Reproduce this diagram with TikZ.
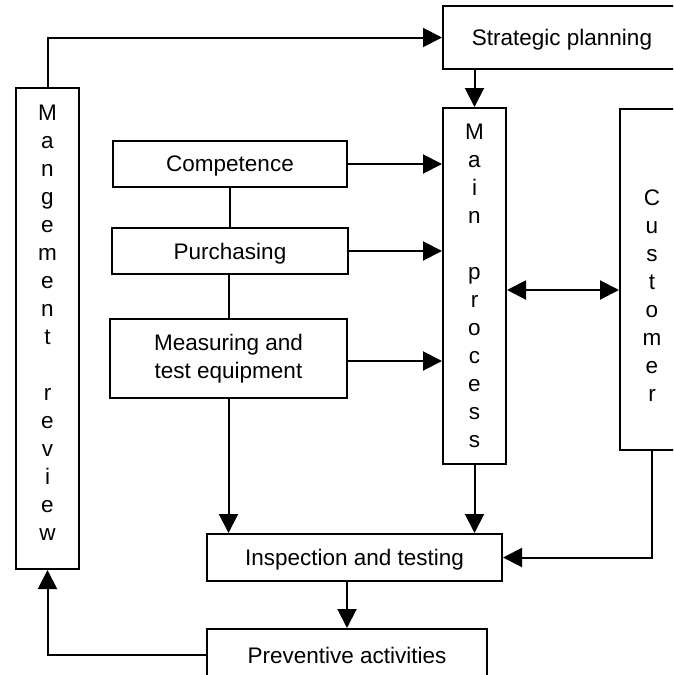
\documentclass[tikz,border=0pt]{standalone}
\usepackage{fontspec}
\setmainfont{Liberation Sans}
\usetikzlibrary{arrows.meta}
\begin{document}
\begin{tikzpicture}[x=1pt,y=-1pt,
  box/.style={draw, line width=2pt, rectangle, inner sep=0pt, align=center,
    font=\fontsize{22.5}{28}\selectfont},
  oneline/.style={text depth=0pt},
  letters/.style={font=\fontsize{22.5}{28}\selectfont, align=center, inner sep=0pt},
  link/.style={line width=2pt},
  flow/.style={line width=2pt, -{Triangle[length=19pt,width=19pt]}},
  both/.style={line width=2pt, {Triangle[length=19pt,width=19pt]}-{Triangle[length=19pt,width=19pt]}}]
\clip (0,0) rectangle (673,675);

% boxes
\node[box, oneline, minimum width=238pt, minimum height=63pt] (strat) at (562,37.5) {Strategic planning};
\node[box, minimum width=63pt, minimum height=481pt] (mgmt) at (47.5,328.5) {};
\node[letters] (mgmttext) at (47.5,323)
  {M\\a\\n\\g\\e\\m\\e\\n\\t\\[28pt]r\\e\\v\\i\\e\\w};
\node[box, minimum width=63pt, minimum height=356pt] (main) at (474.5,286)
  {M\\a\\i\\n\\[28pt]p\\r\\o\\c\\e\\s\\s};
\node[box, minimum width=64pt, minimum height=341pt] (cust) at (652,279.5) {};
\node[letters] (custtext) at (652,296)
  {C\\u\\s\\t\\o\\m\\e\\r};
\node[box, oneline, minimum width=234pt, minimum height=46pt] (comp) at (230,164) {Competence};
\node[box, oneline, minimum width=236pt, minimum height=46pt] (purch) at (230,251) {Purchasing};
\node[box, minimum width=237pt, minimum height=79pt] (meas) at (228.5,358.5)
  {Measuring and\\test equipment};
\node[box, oneline, minimum width=295pt, minimum height=47pt] (insp) at (354.5,557.5) {Inspection and testing};
\node[box, minimum width=280pt, minimum height=52pt] (prev) at (347,655) {Preventive activities};

% connectors
\draw[flow] (mgmt.north) |- (strat.west);
\draw[flow] (main.north |- strat.south) -- (main.north);
\draw[flow] (comp.east) -- (comp.east -| main.west);
\draw[flow] (purch.east) -- (purch.east -| main.west);
\draw[flow] ([yshift=-2.5pt]meas.east) -- ([yshift=-2.5pt]meas.east -| main.west);
\draw[link] (comp.south) -- (comp.south |- purch.north);
\draw[link] (purch.south -| meas.north) -- (meas.north);
\draw[flow] (meas.south) -- (meas.south |- insp.north);
\draw[flow] (main.south) -- (main.south |- insp.north);
\draw[both] ([yshift=-4pt]main.east) -- ([yshift=-4pt]main.east -| cust.west);
\draw[flow] (cust.south) |- (insp.east);
\draw[flow] (prev.north |- insp.south) -- (prev.north);
\draw[flow] (prev.west) -| (mgmt.south);
\end{tikzpicture}
\end{document}
